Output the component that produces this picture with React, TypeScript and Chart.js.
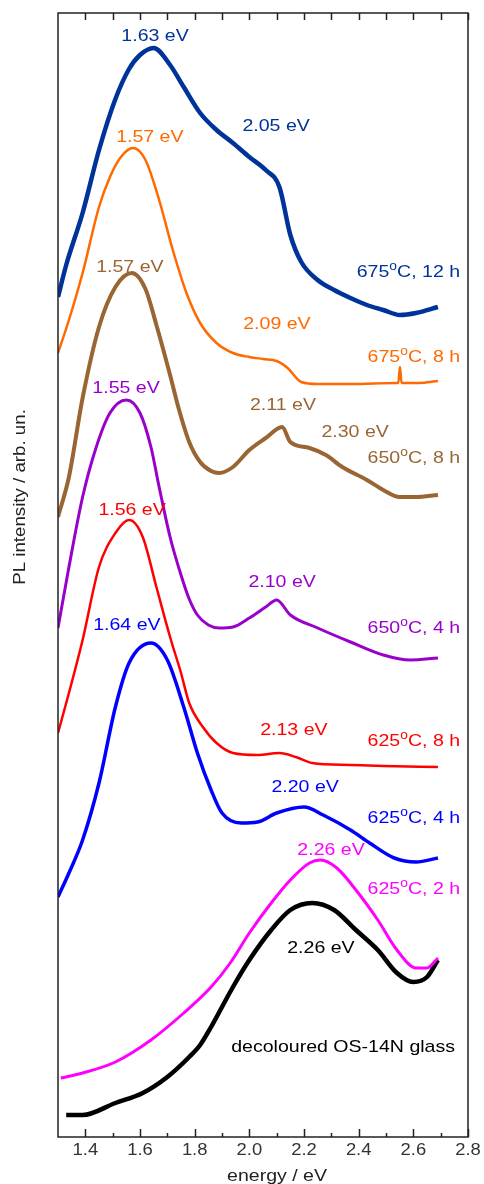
import React, { useEffect, useRef } from "react";
import { Chart, registerables } from "chart.js";
Chart.register(...registerables);

// ---- data (energy in eV, PL intensity in arbitrary units, curves offset vertically) ----
const e675_12 = [1.30,1.33,1.39,1.45,1.51,1.56,1.60,1.65,1.71,1.76,1.82,1.88,1.94,2.00,2.06,2.11,2.15,2.19,2.25,2.31,2.37,2.43,2.49,2.55,2.61,2.69];
const i675_12 = [840,872,924,987,1038,1068,1082,1089,1072,1050,1024,1007,994,980,967,950,902,875,857,847,839,832,827,822,824,830];

const e675_8 = [1.30,1.34,1.39,1.45,1.49,1.53,1.575,1.62,1.67,1.72,1.77,1.82,1.88,1.94,2.00,2.05,2.10,2.14,2.19,2.25,2.37,2.54,2.545,2.551,2.557,2.62,2.69];
const i675_8 = [784,817,864,930,960,980,989,977,937,887,844,814,794,784,780,778,776,769,755,753,753,754,754,770,754,754,756];

const e650_8 = [1.30,1.34,1.39,1.45,1.51,1.57,1.62,1.66,1.71,1.74,1.78,1.82,1.86,1.89,1.94,2.00,2.06,2.12,2.15,2.22,2.28,2.34,2.43,2.49,2.55,2.61,2.69];
const i650_8 = [620,660,739,810,850,864,848,812,762,730,695,675,666,664,670,687,699,710,695,689,682,670,657,647,640,640,642];

const e650_4 = [1.30,1.34,1.39,1.44,1.49,1.55,1.60,1.64,1.67,1.71,1.75,1.78,1.81,1.85,1.89,1.94,2.00,2.06,2.10,2.15,2.25,2.37,2.49,2.59,2.69];
const i650_4 = [509,570,640,690,724,737,724,690,650,600,562,538,522,512,509,510,519,530,537,522,509,495,482,477,479];

const e625_8 = [1.30,1.34,1.39,1.45,1.51,1.56,1.61,1.66,1.71,1.75,1.78,1.83,1.88,1.94,2.03,2.11,2.17,2.23,2.37,2.49,2.69];
const i625_8 = [404,444,497,570,604,617,600,550,500,464,434,410,394,384,382,384,380,374,372,371,370];

const e625_4 = [1.30,1.34,1.39,1.45,1.51,1.56,1.64,1.70,1.76,1.81,1.86,1.90,1.97,2.03,2.10,2.20,2.27,2.37,2.44,2.53,2.61,2.69];
const i625_4 = [240,264,297,354,430,474,494,477,430,384,347,324,314,315,324,330,322,307,294,279,275,279];

const e625_2 = [1.31,1.39,1.51,1.64,1.76,1.86,1.93,2.00,2.08,2.15,2.22,2.26,2.32,2.39,2.47,2.54,2.61,2.65,2.69];
const i625_2 = [59,64,75,97,124,150,174,204,234,257,274,277,269,247,217,187,169,169,179];

const eGlass = [1.33,1.39,1.51,1.61,1.70,1.78,1.82,1.86,1.90,1.94,2.00,2.08,2.15,2.23,2.31,2.39,2.47,2.54,2.60,2.65,2.69];
const iGlass = [22,22,34,44,60,80,92,110,130,150,177,207,227,234,227,207,187,164,155,160,177];

const xMajorTicks = [1.4,1.6,1.8,2.0,2.2,2.4,2.6,2.8];
const xMinorTicks = [1.5,1.7,1.9,2.1,2.3,2.5,2.7];
const xTickLabels = ["1.4","1.6","1.8","2.0","2.2","2.4","2.6","2.8"];

// peak annotations: text, energy, intensity
const peakTexts = ["1.63 eV","2.05 eV","1.57 eV","2.09 eV","1.57 eV","2.11 eV","2.30 eV","1.55 eV","2.10 eV","1.56 eV","2.13 eV","1.64 eV","2.20 eV","2.26 eV","2.26 eV","decoloured OS-14N glass"];
const peakE = [1.655,2.098,1.636,2.101,1.563,2.123,2.387,1.549,2.12,1.571,2.163,1.552,2.204,2.299,2.262,2.343];
const peakI = [1101,1011,1000,813,870,732,705,749,555,627,407,512,350,287,189,90];
const peakSeries = [0,0,1,1,2,2,2,3,3,4,4,5,5,6,7,7];

// sample labels
const sampleTemps = ["675","675","650","650","625","625","625"];
const sampleTimes = ["12 h","8 h","8 h","4 h","8 h","4 h","2 h"];
const sampleI = [866,781,680,510,397,320,249];

const seriesColors = ["#003399","#ff6a00","#996633","#9900cc","#ff0000","#0000ff","#ff00ff","#000000"];
const seriesWidths = [4.5,2.5,4,3,2.5,3.5,3,4.5];
const seriesE = [e675_12,e675_8,e650_8,e650_4,e625_8,e625_4,e625_2,eGlass];
const seriesI = [i675_12,i675_8,i650_8,i650_4,i625_8,i625_4,i625_2,iGlass];

const FONT = '"Liberation Sans", Arial, sans-serif';
const SX = 1.15;

function drawStr(ctx: CanvasRenderingContext2D, text: string, x: number, y: number, size: number, color: string, align: string) {
  ctx.save();
  ctx.font = `${size}px ${FONT}`;
  const w = ctx.measureText(text).width * SX;
  const sx = align === "center" ? x - w / 2 : align === "right" ? x - w : x;
  ctx.translate(sx, y);
  ctx.scale(SX, 1);
  ctx.fillStyle = color;
  ctx.textBaseline = "middle";
  ctx.textAlign = "left";
  ctx.fillText(text, 0, 0);
  ctx.restore();
}

const decorPlugin = {
  id: "decor",
  afterDatasetsDraw(chart: any) {
    const ctx: CanvasRenderingContext2D = chart.ctx;
    const xs = chart.scales.x;
    const ys = chart.scales.y;
    const { left, right, top, bottom } = chart.chartArea;
    ctx.save();
    // frame
    ctx.strokeStyle = "#222";
    ctx.lineWidth = 1.5;
    ctx.strokeRect(left, top, right - left, bottom - top);
    // ticks
    ctx.beginPath();
    xMajorTicks.forEach((v) => {
      const px = Math.round(xs.getPixelForValue(v)) + 0.5;
      ctx.moveTo(px, bottom); ctx.lineTo(px, bottom - 8);
      ctx.moveTo(px, top); ctx.lineTo(px, top + 7);
    });
    xMinorTicks.forEach((v) => {
      const px = Math.round(xs.getPixelForValue(v)) + 0.5;
      ctx.moveTo(px, bottom); ctx.lineTo(px, bottom - 4);
      ctx.moveTo(px, top); ctx.lineTo(px, top + 7);
    });
    ctx.stroke();
    ctx.restore();
    // tick labels
    xMajorTicks.forEach((v, i) => {
      drawStr(ctx, xTickLabels[i], xs.getPixelForValue(v), bottom + 14, 16, "#333", "center");
    });
    // axis titles
    drawStr(ctx, "energy / eV", 277, bottom + 39, 17, "#222", "center");
    ctx.save();
    ctx.translate(20, 497);
    ctx.rotate(-Math.PI / 2);
    ctx.font = `17px ${FONT}`;
    const yt = "PL intensity / arb. un.";
    const yw = ctx.measureText(yt).width;
    ctx.scale(1.1, 1);
    ctx.fillStyle = "#222";
    ctx.textBaseline = "middle";
    ctx.fillText(yt, -yw / 2, 0);
    ctx.restore();
    // peak labels
    peakTexts.forEach((t, i) => {
      drawStr(ctx, t, xs.getPixelForValue(peakE[i]), ys.getPixelForValue(peakI[i]), 17, seriesColors[peakSeries[i]], "center");
    });
    // sample labels (right aligned, superscript o)
    const xr = xs.getPixelForValue(2.771);
    sampleTemps.forEach((tmp, i) => {
      const rest = "C, " + sampleTimes[i];
      ctx.save();
      ctx.font = `17px ${FONT}`;
      const w1 = ctx.measureText(tmp).width;
      const w3 = ctx.measureText(rest).width;
      ctx.font = `12px ${FONT}`;
      const w2 = ctx.measureText("o").width;
      const total = (w1 + w2 + w3) * SX;
      const yc = ys.getPixelForValue(sampleI[i]);
      ctx.translate(xr - total, yc + 6);
      ctx.scale(SX, 1);
      ctx.fillStyle = seriesColors[i];
      ctx.textBaseline = "alphabetic";
      ctx.textAlign = "left";
      ctx.font = `17px ${FONT}`;
      ctx.fillText(tmp, 0, 0);
      ctx.font = `12px ${FONT}`;
      ctx.fillText("o", w1, -7);
      ctx.font = `17px ${FONT}`;
      ctx.fillText(rest, w1 + w2, 0);
      ctx.restore();
    });
  },
};

export default function App() {
  const ref = useRef<HTMLCanvasElement | null>(null);
  useEffect(() => {
    if (!ref.current) return;
    const datasets = seriesE.map((es, s) => ({
      data: es.map((e, k) => ({ x: e, y: seriesI[s][k] })),
      borderColor: seriesColors[s],
      borderWidth: seriesWidths[s],
      pointRadius: 0,
      cubicInterpolationMode: "monotone" as const,
      fill: false,
    }));
    const chart = new Chart(ref.current, {
      type: "line",
      data: { datasets },
      options: {
        animation: false,
        responsive: false,
        devicePixelRatio: 1,
        layout: { padding: { left: 58, top: 13, right: 16, bottom: 47 } },
        plugins: { legend: { display: false }, tooltip: { enabled: false } },
        scales: {
          x: { type: "linear", min: 1.3, max: 2.8, display: false },
          y: { type: "linear", min: 0, max: 1124, display: false },
        },
      },
      plugins: [decorPlugin],
    });
    return () => chart.destroy();
  }, []);
  return (
    <div style={{ position: "absolute", left: 0, top: 0, width: 484, height: 1184, background: "#fff" }}>
      <canvas ref={ref} width={484} height={1184} style={{ width: 484, height: 1184, display: "block" }} />
    </div>
  );
}
